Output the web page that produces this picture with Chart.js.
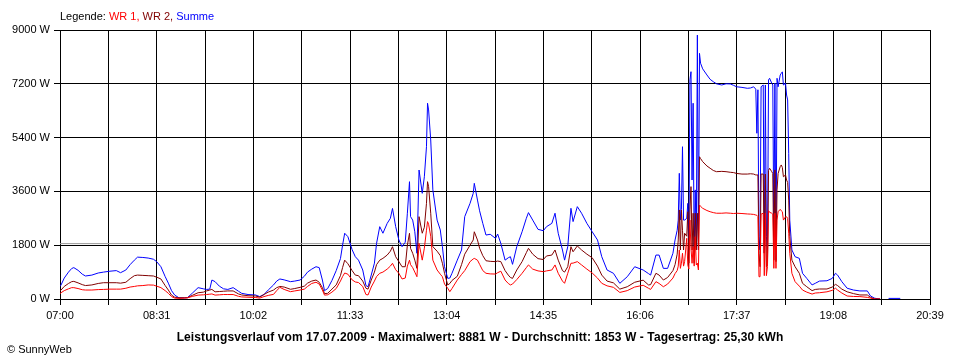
<!DOCTYPE html>
<html>
<head>
<meta charset="utf-8">
<script src="https://cdn.jsdelivr.net/npm/chart.js@4.4.1/dist/chart.umd.min.js"></script>
<style>
  html, body { margin: 0; padding: 0; background: #ffffff; }
  #wrap { position: relative; width: 960px; height: 360px; overflow: hidden; font-family: "Liberation Sans", Arial, sans-serif; }
  #c { position: absolute; left: 0; top: 0; }
  .txt { position: absolute; font-size: 11px; line-height: 13px; white-space: nowrap; color: #000; }
  #legend { left: 60px; top: 10px; }
  #title { left: 0; width: 960px; text-align: center; top: 330px; font-weight: bold; font-size: 12px; line-height: 14px; letter-spacing: 0.1px; }
  #copy { left: 7px; top: 343px; }
</style>
</head>
<body>
<div id="wrap">
  <canvas id="c" width="960" height="360"></canvas>
  <div class="txt" id="legend">Legende: <span style="color:#ff0000">WR 1,</span> <span style="color:#800000">WR 2,</span> <span style="color:#0000ff">Summe</span></div>
  <div class="txt" id="title">Leistungsverlauf vom 17.07.2009 - Maximalwert: 8881 W - Durchschnitt: 1853 W - Tagesertrag: 25,30 kWh</div>
  <div class="txt" id="copy">© SunnyWeb</div>
</div>
<script>
// minutes after 07:00
const times = [0,1,4,8,11,13,17,21,24,30,36,41,47,53,57,62,66,70,73,78,83,88,91,95,99,102,105,108,112,117,120,125,130,135,138,141,143,146,150,154,158,163,168,171,177,184,188,192,196,201,204,207,211,217,221,226,230,233,237,241,244,247,249,252,256,260,264,266,268,271,275,278,281,285,288,290,293,296,298,301,304,308,311,313,316,319,322,325,327,329,330,332,334,336,338,341,343,345,346,347,349,351,355,358,360,362,365,367,369,374,378,381,386,389,390,393,395,398,401,405,410,412,415,419,422,424,426,430,435,439,441,445,450,455,458,463,466,469,473,475,478,481,483,487,491,496,501,506,510,515,521,527,534,541,549,554,556,561,564,568,572,577,579,581,582,583,584,585,586,587,588,590,591,592,593,594,595,596,597,598,599,600,601,602,603,605,609,612,615,618,623,627,631,634,637,642,647,650,653,655,656,657,658,659,660,662,663,664,665,666,667,668,670,671,672,673,674,675,676,678,679,680,681,683,684,685,686,687,689,692,696,699,703,708,711,715,722,727,730,732,736,741,747,753,760,763,767,772,776,780,791];

const summe = [420,470,700,900,1020,1050,960,830,770,800,870,900,930,950,880,970,1150,1300,1400,1390,1370,1330,1250,1080,750,530,280,130,40,40,45,210,380,340,320,330,635,580,430,340,320,380,260,190,150,135,80,150,300,470,600,670,640,580,600,635,760,900,1000,1080,1050,635,280,350,620,950,1350,1800,2200,2085,1650,1415,1300,970,450,410,800,1200,1860,2420,2200,2530,2700,3030,2420,1975,1750,1900,2870,3925,2755,2640,2250,1530,4315,3535,4090,5095,6550,6325,5320,3650,2640,2310,1750,1080,690,700,860,1300,1640,2755,3200,3535,3870,3310,2950,2530,2140,2165,2030,2175,1860,1300,1380,1415,1160,1750,2250,2700,2890,2640,2330,2285,2420,2530,2870,2200,1640,1300,1750,3035,2590,3090,2870,2530,2250,1975,1415,970,860,525,745,1080,970,850,800,1470,1470,1025,1025,1530,1975,2300,2640,4205,2640,3000,5095,2640,2640,2700,3200,1640,7330,7605,3980,6550,1640,3650,1750,8830,1640,8220,7890,7700,7495,7350,7270,7200,7160,7200,7195,7150,7100,7080,7050,7060,7100,7020,5545,7000,1640,2085,7100,7160,1540,7160,2085,1540,7330,7385,7220,7160,2085,7220,1300,7385,7100,7495,7550,7600,7160,7220,6825,6660,4875,2640,1640,1415,1360,860,690,470,525,600,610,690,860,800,580,360,300,270,270,100,25,0,null,20,20];

const wr2 = [280,300,420,520,580,590,540,480,450,470,520,545,545,545,530,560,680,780,800,790,780,770,730,670,450,300,130,60,40,40,45,130,210,230,270,300,320,240,250,260,270,270,170,135,110,100,65,150,230,300,380,420,400,325,350,390,430,530,600,635,560,380,180,190,330,470,780,1050,1300,1180,950,800,780,600,360,330,635,900,1150,1300,1360,1470,1600,1750,1415,1250,1080,1080,1800,2200,1695,1530,1300,1025,2755,2200,2400,3200,3925,3760,2870,1750,1600,1450,1195,860,470,520,620,760,1150,1500,1800,1975,2250,1975,1700,1450,1280,1260,1250,1270,1250,950,800,720,690,970,1250,1550,1695,1500,1350,1320,1440,1470,1640,1300,950,900,1080,1750,1580,1775,1640,1500,1380,1100,800,600,540,330,410,560,630,470,480,860,800,635,720,950,1150,1500,1975,2980,1640,2980,2300,1640,2200,2100,2920,1200,2980,3760,1640,2870,1200,2870,1640,2870,1640,4760,4700,4595,4450,4375,4300,4260,4270,4260,4240,4230,4200,4180,4180,4190,4180,4150,4150,4150,1530,1080,4180,4180,1530,4180,1080,1195,4300,4375,4260,4200,1300,4320,1250,3650,4200,4430,4485,4400,4090,4150,3980,3900,3310,2085,1300,1080,860,525,410,280,320,335,335,400,490,450,330,240,180,135,135,55,0,0,null,null,null];

const wr1 = [180,210,280,340,380,380,350,310,300,300,315,320,330,330,330,360,400,420,440,450,470,465,430,380,280,190,80,30,20,30,40,90,130,140,150,160,170,130,140,150,150,150,90,70,60,50,30,80,120,155,280,390,320,245,270,300,330,420,520,560,500,300,130,140,230,350,600,750,870,830,640,570,550,420,150,135,400,600,750,860,900,1000,1100,1195,980,860,670,700,1100,1300,1150,1050,900,745,1860,1300,1700,2300,2590,2500,2100,1300,970,830,745,500,360,245,350,635,820,950,1250,1340,1360,1300,1160,950,860,840,835,880,930,635,520,470,500,650,860,1050,1140,1000,940,915,940,970,1140,860,600,525,860,1195,1200,1250,1140,1000,870,700,525,440,390,220,280,400,460,360,320,580,520,410,500,700,850,950,1100,1640,1025,1200,1530,1100,1250,2030,1140,1000,2640,1700,1195,1750,1100,2085,1140,1200,970,3145,3100,3035,2960,2920,2890,2870,2870,2880,2870,2860,2870,2860,2845,2840,2830,2810,2800,2760,745,745,2840,2870,780,2870,780,1080,2955,2900,2870,2840,1025,2870,1025,2640,2920,3000,2950,2920,2640,2750,2750,2700,2200,1530,860,580,430,300,230,165,200,210,240,290,360,300,200,100,85,80,55,30,0,0,null,null,null];

const averageValue = 1853;
const xTickLabels = ['07:00','08:31','10:02','11:33','13:04','14:35','16:06','17:37','19:08','20:39'];
const yTickValues = [0,1800,3600,5400,7200,9000];
const xMax = 819;     // 20:39 in minutes after 07:00
const xStep = 45.5;   // grid spacing in minutes
const yMax = 9000;
const yStep = 1800;

const toPoints = arr => times.map((t, i) => ({ x: t, y: arr[i] }));

Chart.defaults.font.family = '"Liberation Sans", Arial, sans-serif';
Chart.defaults.font.size = 11;
Chart.defaults.color = '#000000';

new Chart(document.getElementById('c'), {
  type: 'line',
  data: {
    datasets: [
      { label: 'WR 1', data: toPoints(wr1), borderColor: '#ff0000', borderWidth: 1, pointRadius: 0, tension: 0, spanGaps: false, fill: false },
      { label: 'WR 2', data: toPoints(wr2), borderColor: '#800000', borderWidth: 1, pointRadius: 0, tension: 0, spanGaps: false, fill: false },
      { label: 'Summe', data: toPoints(summe), borderColor: '#0000ff', borderWidth: 1, pointRadius: 0, tension: 0, spanGaps: false, fill: false },
      { label: 'Durchschnitt', data: [{ x: 0, y: averageValue }, { x: xMax, y: averageValue }], borderColor: '#9a9a9a', borderWidth: 1, pointRadius: 0, fill: false }
    ]
  },
  options: {
    responsive: false,
    animation: false,
    events: [],
    layout: { padding: { left: 0, top: 30, right: 30, bottom: 0 } },
    plugins: { legend: { display: false }, tooltip: { enabled: false }, title: { display: false } },
    scales: {
      x: {
        type: 'linear',
        min: 0,
        max: xMax,
        afterFit: s => { s.height = 61; },
        border: { display: true, color: '#000000', width: 1 },
        grid: { color: '#000000', lineWidth: 1, drawTicks: true, tickLength: 6, tickColor: '#000000' },
        ticks: {
          stepSize: xStep,
          autoSkip: false,
          maxRotation: 0,
          padding: 4,
          color: '#000000',
          callback: (v, i) => (i % 2 === 0 ? (xTickLabels[i / 2] || '') : '')
        }
      },
      y: {
        type: 'linear',
        min: 0,
        max: yMax,
        afterFit: s => { s.width = 60; },
        afterBuildTicks: s => { s.ticks = yTickValues.map(v => ({ value: v })); },
        border: { display: true, color: '#000000', width: 1 },
        grid: { color: '#000000', lineWidth: 1, drawTicks: true, tickLength: 6, tickColor: '#000000' },
        ticks: {
          stepSize: yStep,
          padding: 4,
          color: '#000000',
          callback: v => v + ' W'
        }
      }
    }
  }
});
</script>
</body>
</html>
